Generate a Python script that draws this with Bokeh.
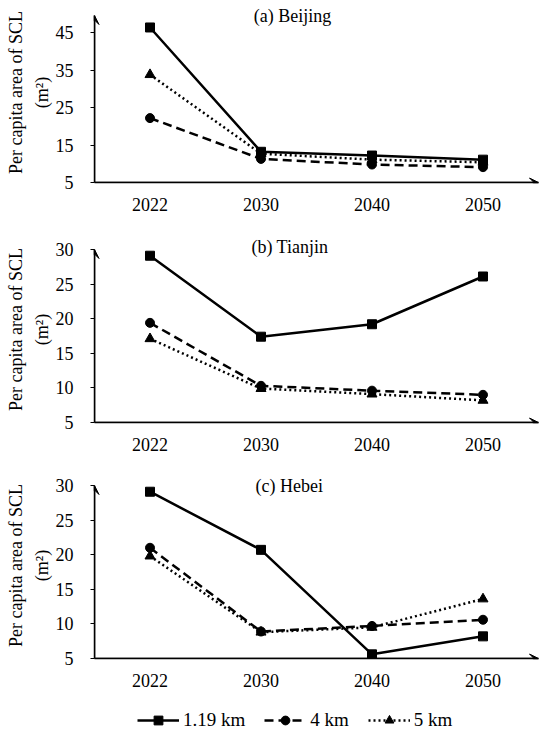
from bokeh.plotting import figure
from bokeh.layouts import column
from bokeh.models import (FactorRange, Range1d, FixedTicker, Label, Arrow, VeeHead,
                          Legend, LegendItem)
from bokeh.embed import file_html
from bokeh.resources import INLINE

years = ["2022", "2030", "2040", "2050"]
series_names = ["1.19 km", "4 km", "5 km"]

beijing_119 = [46.4, 13.2, 12.2, 11.1]
beijing_4 = [22.2, 11.3, 9.8, 9.1]
beijing_5 = [33.8, 12.7, 11.1, 10.4]

tianjin_119 = [29.1, 17.4, 19.2, 26.1]
tianjin_4 = [19.4, 10.3, 9.6, 9.0]
tianjin_5 = [17.1, 9.9, 9.1, 8.2]

hebei_119 = [29.1, 20.7, 5.6, 8.2]
hebei_4 = [21.0, 8.9, 9.7, 10.6]
hebei_5 = [19.8, 8.8, 9.5, 13.6]

ticks_a = [5, 15, 25, 35, 45]
ticks_bc = [5, 10, 15, 20, 25, 30]
titles = ["(a) Beijing", "(b) Tianjin", "(c) Hebei"]
y_label = "Per capita area of SCL\n(m\u00b2)"

FONT = "Liberation Serif"
FS = "18px"
W = 550

styles = [
    dict(dash="solid", marker="square", size=9),
    dict(dash="9 5", marker="circle", size=9),
    dict(dash="2 3", marker="triangle", size=10),
]


def make_panel(title, series, y0, y1, ticks, fig_top, height, axis_top, axis_bot,
               bt, bl, br, title_pos):
    bb = int(fig_top + height - axis_bot)
    frame_top = fig_top + bt
    pxu = (axis_bot - axis_top) / (y1 - y0)
    y_end = y1 + (axis_top - frame_top) / pxu
    p = figure(width=W, height=height, x_range=FactorRange(factors=years, range_padding=0),
               y_range=Range1d(y0, y_end), output_backend="svg", toolbar_location=None,
               title=None)
    p.min_border_top = bt
    p.min_border_bottom = bb
    p.min_border_left = bl
    p.min_border_right = br
    p.outline_line_color = None
    p.xgrid.visible = False
    p.ygrid.visible = False

    frame_w = W - bl - br

    def sx(px):
        return (px - bl) / frame_w * len(years)

    def sy(py):
        return y0 + (axis_bot - py) / pxu

    for vals, name, st in zip(series, series_names, styles):
        p.line(years, vals, line_color="black", line_width=2.5, line_dash=st["dash"])
        p.scatter(years, vals, marker=st["marker"], size=st["size"], fill_color="black",
                  line_color="black")

    for ax in (p.xaxis[0], p.yaxis[0]):
        ax.axis_line_color = "black"
        ax.axis_line_width = 1.5
        ax.major_label_text_font = FONT
        ax.major_label_text_font_size = FS
        ax.major_label_text_color = "black"
        ax.minor_tick_line_color = None
    p.xaxis[0].major_tick_line_color = None
    p.xaxis[0].major_label_standoff = 9
    ya = p.yaxis[0]
    ya.ticker = FixedTicker(ticks=ticks, minor_ticks=[])
    ya.bounds = (y0, y1)
    ya.major_tick_in = 0
    ya.major_tick_out = 4
    ya.major_tick_line_width = 1.2
    ya.major_label_standoff = 17
    ya.axis_label = y_label
    ya.axis_label_text_font = FONT
    ya.axis_label_text_font_size = FS
    ya.axis_label_text_font_style = "normal"
    ya.axis_label_text_color = "black"
    ya.axis_label_text_line_height = 1.3
    ya.axis_label_standoff = 1

    # arrow heads on the axes
    p.add_layout(Arrow(end=VeeHead(size=9, fill_color="black", line_color="black"),
                       x_start=0, y_start=y0, x_end=0, y_end=y1,
                       line_color="black", line_width=1.5))
    p.add_layout(Arrow(end=VeeHead(size=9, fill_color="black", line_color="black"),
                       x_start=0, y_start=y0, x_end=len(years), y_end=y0,
                       line_color="black", line_width=1.5))

    p.add_layout(Label(x=sx(title_pos[0]), y=sy(title_pos[1]), text=title,
                       text_font=FONT, text_font_size=FS, text_align="center",
                       text_baseline="middle", text_color="black"))
    return p


pa = make_panel(titles[0], [beijing_119, beijing_4, beijing_5], 5, 49.6, ticks_a,
                0, 236, 15, 182, 2, 94, 12, (292, 15))
pb = make_panel(titles[1], [tianjin_119, tianjin_4, tianjin_5], 5, 30, ticks_bc,
                236, 234, 249, 422, 0, 91, 9, (289, 246))
pc = make_panel(titles[2], [hebei_119, hebei_4, hebei_5], 5, 30, ticks_bc,
                470, 236, 485, 658, 2, 89, 12, (286, 485))

# legend strip: hidden copies of the Hebei series supply the legend glyphs
LEG_H = 26
pl = figure(width=W, height=LEG_H, x_range=FactorRange(factors=years), y_range=Range1d(0, 1),
            output_backend="svg", toolbar_location=None, title=None,
            x_axis_location=None, y_axis_location=None, min_border=0)
pl.outline_line_color = None
pl.xgrid.visible = False
pl.ygrid.visible = False
items = []
for vals, name, st in zip([hebei_119, hebei_4, hebei_5], series_names, styles):
    rl = pl.line(years, vals, line_color="black", line_width=2.5, line_dash=st["dash"],
                 visible=False)
    rs = pl.scatter(years, vals, marker=st["marker"], size=st["size"], fill_color="black",
                    line_color="black", visible=False)
    items.append(LegendItem(label=name, renderers=[rl, rs]))
lg = Legend(items=items, orientation="horizontal", location=(43, 1))
lg.glyph_width = 42
lg.glyph_height = 22
lg.label_standoff = 4
lg.spacing = 19
lg.padding = 0
lg.margin = 0
lg.border_line_color = None
lg.background_fill_alpha = 0
lg.inactive_fill_alpha = 0
lg.label_text_font = FONT
lg.label_text_font_size = "19px"
lg.label_text_color = "black"
lg.label_height = 20
pl.add_layout(lg, "center")

layout = column(pa, pb, pc, pl, spacing=0)
open("out.html", "w").write(file_html(layout, INLINE))
